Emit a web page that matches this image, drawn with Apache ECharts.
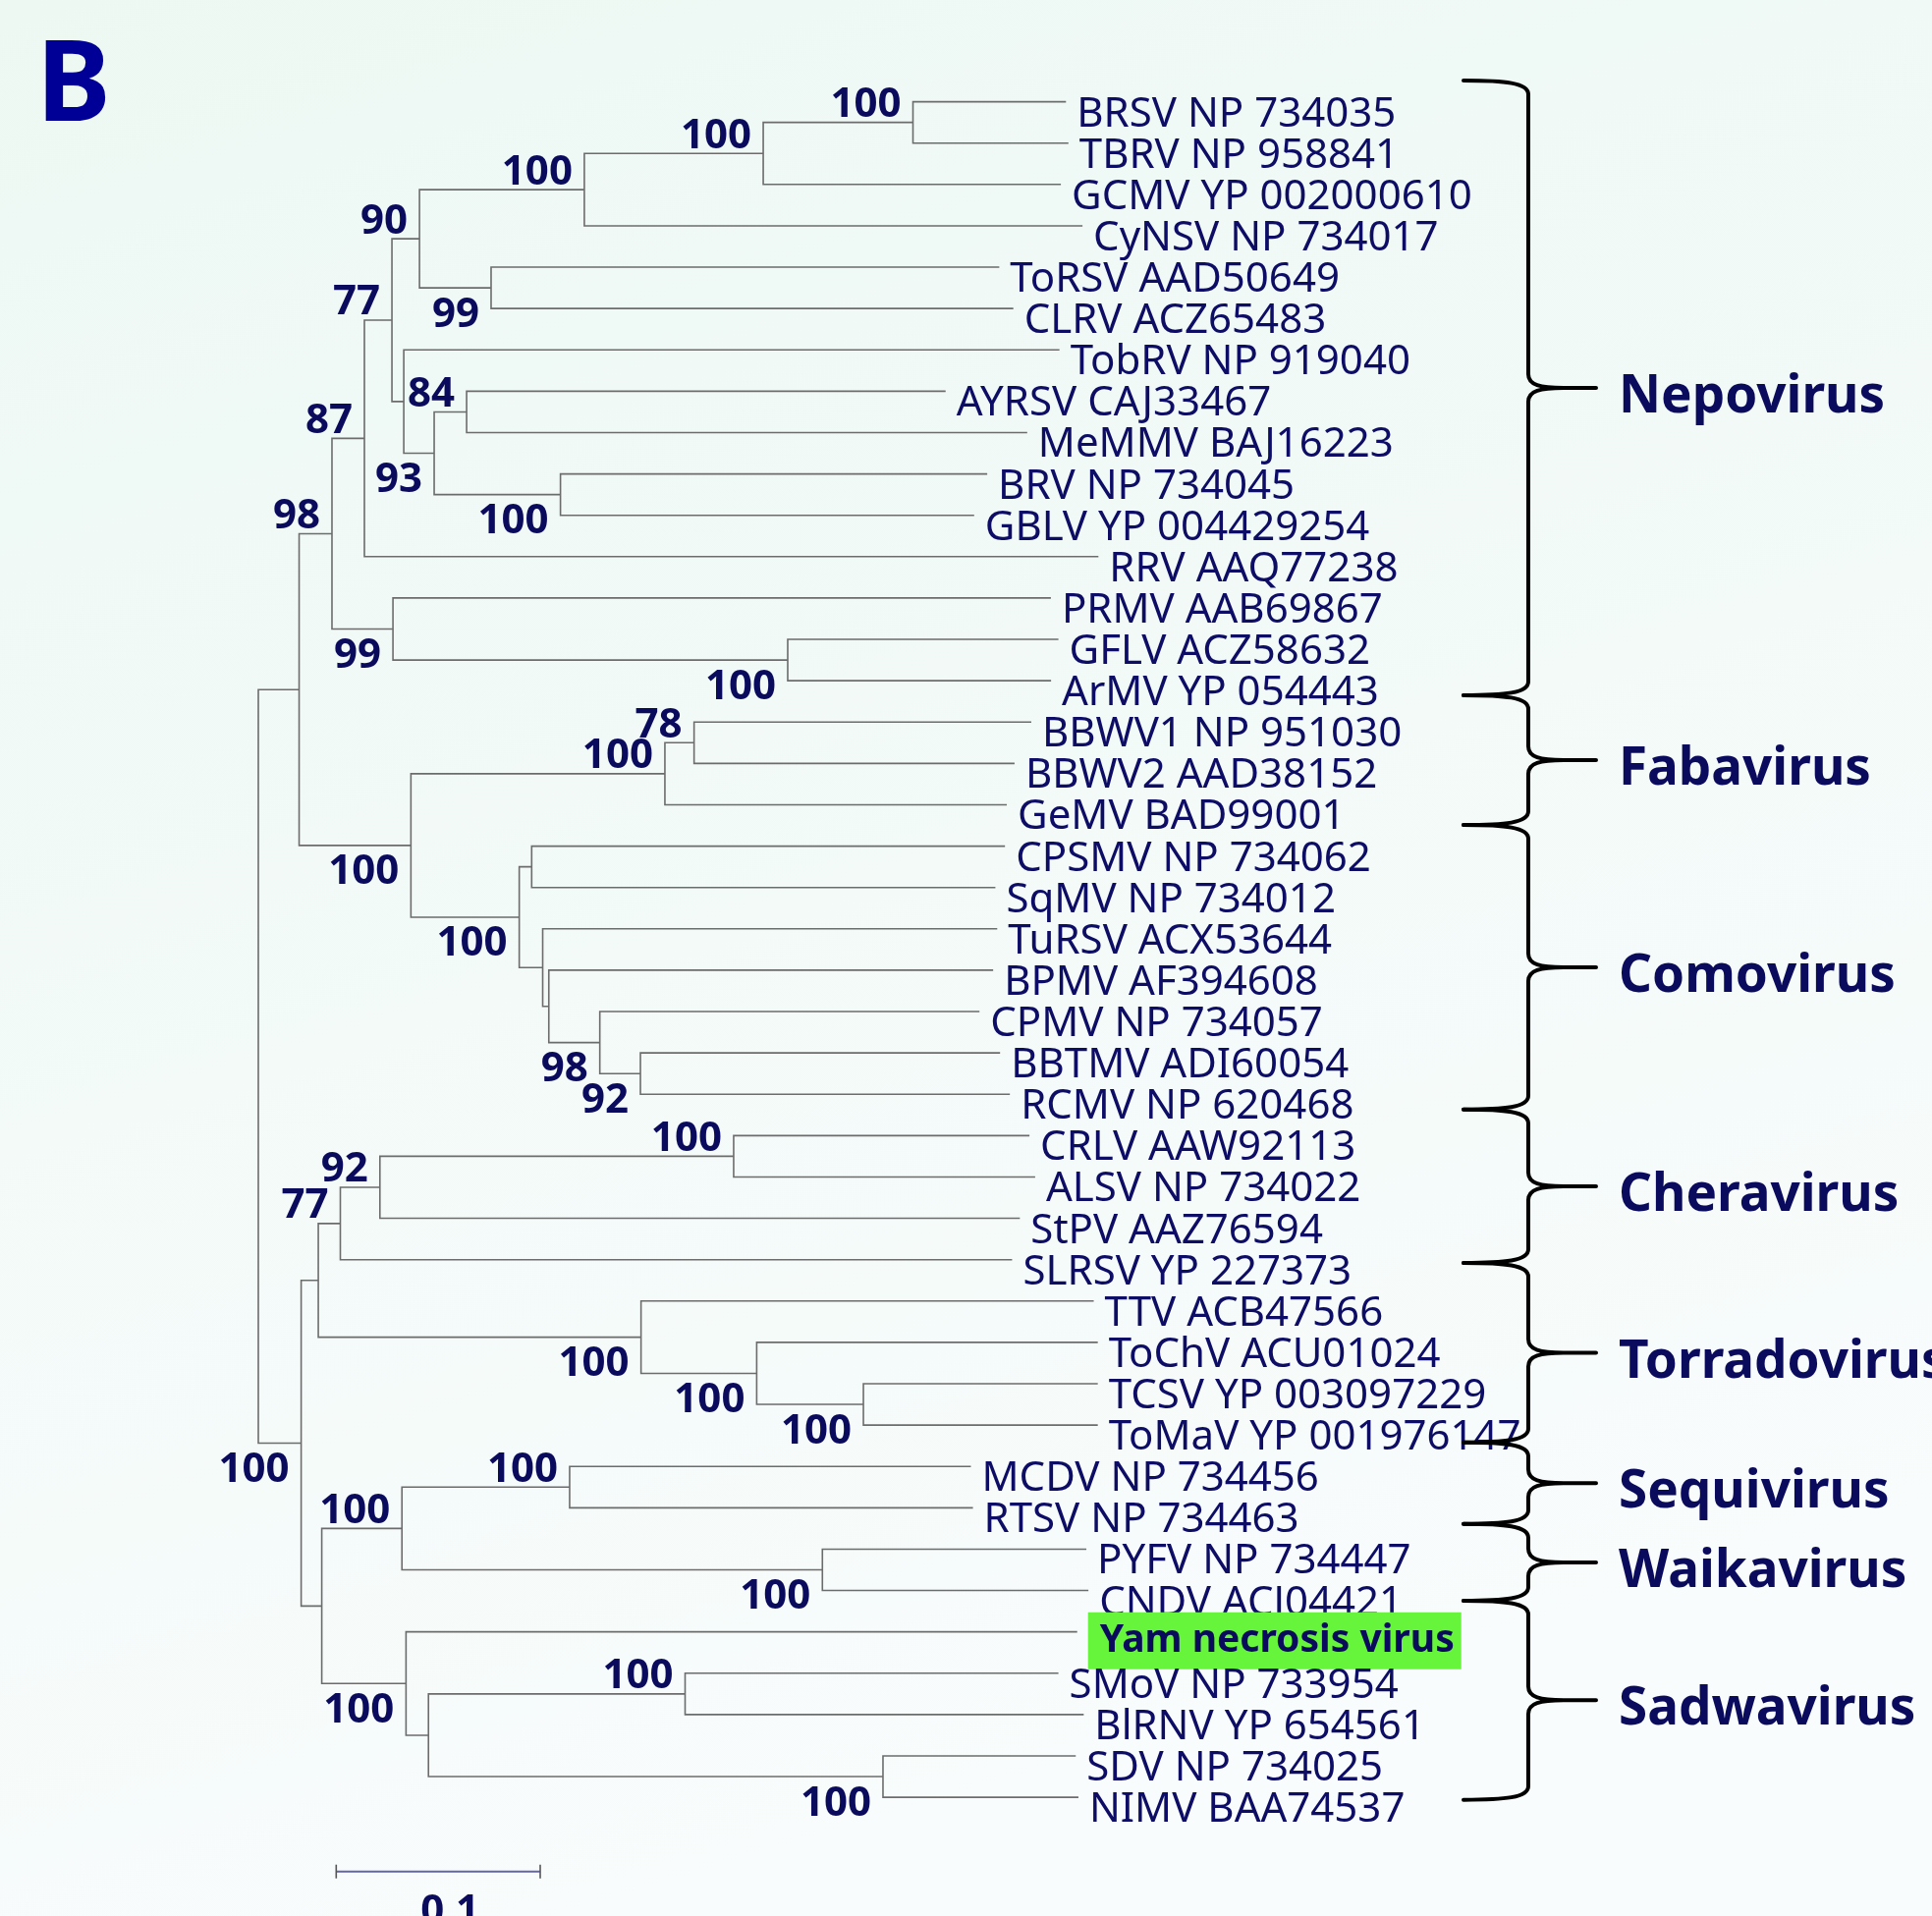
<!DOCTYPE html>
<html><head><meta charset="utf-8">
<script src="https://cdn.jsdelivr.net/npm/echarts@6/dist/echarts.min.js"></script>
<style>html,body{margin:0;padding:0;background:#f3faf8;overflow:hidden}#c{width:1967px;height:1951px}</style>
</head><body><div id="c"></div>
<script>
// ---------- DATA ----------
const leafNames = [
  'BRSV NP 734035','TBRV NP 958841','GCMV YP 002000610','CyNSV NP 734017','ToRSV AAD50649',
  'CLRV ACZ65483','TobRV NP 919040','AYRSV CAJ33467','MeMMV BAJ16223','BRV NP 734045',
  'GBLV YP 004429254','RRV AAQ77238','PRMV AAB69867','GFLV ACZ58632','ArMV YP 054443',
  'BBWV1 NP 951030','BBWV2 AAD38152','GeMV BAD99001','CPSMV NP 734062','SqMV NP 734012',
  'TuRSV ACX53644','BPMV AF394608','CPMV NP 734057','BBTMV ADI60054','RCMV NP 620468',
  'CRLV AAW92113','ALSV NP 734022','StPV AAZ76594','SLRSV YP 227373','TTV ACB47566',
  'ToChV ACU01024','TCSV YP 003097229','ToMaV YP 001976147','MCDV NP 734456','RTSV NP 734463',
  'PYFV NP 734447','CNDV ACJ04421','Yam necrosis virus','SMoV NP 733954','BlRNV YP 654561',
  'SDV NP 734025','NIMV BAA74537'
];
// distance from root (substitutions/site) of each tip
const leafDepth = [
  0.3959,0.3971,0.3934,0.4040,0.3632,
  0.3701,0.3927,0.3369,0.3769,0.3573,
  0.3509,0.4118,0.3885,0.3922,0.3886,
  0.3789,0.3707,0.3669,0.3660,0.3613,
  0.3622,0.3602,0.3535,0.3636,0.3684,
  0.3780,0.3808,0.3733,0.3695,0.4095,
  0.4115,0.4115,0.4115,0.3493,0.3503,
  0.4059,0.4069,0.4014,0.3922,0.4046,
  0.4007,0.4020
];
// internal nodes: children (number = leaf index, 'nK' = internal node K)
const nodeKids = [
  ['n1','n25'],['n2','n16'],['n3','n14'],['n4',11],['n5','n10'],
  ['n6','n9'],['n7',3],['n8',2],[0,1],[4,5],
  [6,'n11'],['n12','n13'],[7,8],[9,10],[12,'n15'],
  [13,14],['n17','n19'],['n18',17],[15,16],['n20','n21'],
  [18,19],[20,'n22'],[21,'n23'],[22,'n24'],[23,24],
  ['n26','n33'],['n27','n30'],['n28',28],['n29',27],[25,26],
  [29,'n31'],[30,'n32'],[31,32],['n34','n37'],['n35','n36'],
  [33,34],[35,36],[37,'n38'],['n39','n40'],[38,39],
  [40,41]
];
const nodeDepth = [
  0,0.0200,0.0361,0.0520,0.0655,
  0.0790,0.1598,0.2475,0.3209,0.1141,
  0.0713,0.0862,0.1021,0.1481,0.0660,
  0.2595,0.0748,0.1993,0.2136,0.1279,
  0.1340,0.1394,0.1424,0.1674,0.1873,
  0.0210,0.0294,0.0402,0.0596,0.2330,
  0.1876,0.2443,0.2966,0.0311,0.0704,
  0.1526,0.2765,0.0724,0.0834,0.2092,
  0.3062
];
const nodeSupport = [
  null,null,98,87,77,
  90,100,100,100,99,
  null,93,84,100,99,
  100,100,100,78,100,
  null,null,null,98,92,
  100,null,77,92,100,
  100,100,100,null,100,
  100,100,100,null,100,
  100
];
// label side: a = above the node, b = below
const supportSide = [
  '','','a','a','a',
  'a','a','a','a','b',
  '','b','a','b','b',
  'b','b','a','a','b',
  '','','','b','b',
  'b','','a','a','a',
  'b','b','b','','a',
  'a','b','b','','a',
  'b'
];
const groupNames = ['Nepovirus','Fabavirus','Comovirus','Cheravirus','Torradovirus','Sequivirus','Waikavirus','Sadwavirus'];
// group extent in leaf-row units
const groupSpan = [[-0.51,14.35],[14.35,17.49],[17.49,24.37],[24.37,28.08],[28.08,32.42],[32.42,34.39],[34.39,36.25],[36.25,41.06]];
const scaleBarLength = 0.1;
const highlightLeaf = 'Yam necrosis virus';
const panelLetter = 'B';

// ---------- STYLE ----------
const FONT = '"Noto Sans","Open Sans",sans-serif';
const NAVY = '#0b0b5e';
const LINE = '#6c6c6c';

// ---------- LAYOUT (computed from data) ----------
const yMemo = {};
function ref(r){
  if (typeof r === 'number') return {d: leafDepth[r], y: r};
  const i = +r.slice(1);
  return {d: nodeDepth[i], y: nodeY(i)};
}
function nodeY(i){
  if (yMemo[i] != null) return yMemo[i];
  const k = nodeKids[i];
  return (yMemo[i] = (ref(k[0]).y + ref(k[1]).y) / 2);
}
const nodeData = nodeKids.map((k, i) => {
  const A = ref(k[0]), B = ref(k[1]);
  return [nodeDepth[i], A.y, B.y, A.d, B.d];
});
const leafData = leafNames.map((n, i) => [leafDepth[i], i]);
const groupData = groupSpan.map(s => [0, s[0], s[1]]);

const chart = echarts.init(document.getElementById('c'), null, {renderer: 'canvas'});
chart.setOption({
  animation: false,
  backgroundColor: {type:'linear', x:0, y:0, x2:0.3, y2:1, colorStops:[{offset:0,color:'#edf8f3'},{offset:1,color:'#f8fcfc'}]},
  grid: {left: 263, right: 665.5, top: 61.49, bottom: 36.67},
  xAxis: {type:'value', min:0, max:0.5, show:false},
  yAxis: {type:'value', min:-1, max:43, inverse:true, show:false},
  graphic: [{
    type:'text', x: 37, y: 91,
    style:{text: panelLetter, fill:'#000096', font:'bold 114px ' + FONT, verticalAlign:'middle'}
  }],
  series: [
    {
      type:'custom', name:'tree', clip:false, data: nodeData,
      renderItem(params, api){
        const d = api.value(0), yA = api.value(1), yB = api.value(2), dA = api.value(3), dB = api.value(4);
        const p0 = api.coord([dA, yA]), p1 = api.coord([d, yA]), p2 = api.coord([d, yB]), p3 = api.coord([dB, yB]);
        const children = [{type:'polyline', shape:{points:[p0,p1,p2,p3]}, style:{stroke:LINE, lineWidth:1.6, fill:null}}];
        const s = nodeSupport[params.dataIndex];
        if (s != null) {
          const m = api.coord([d, (yA + yB) / 2]);
          const above = supportSide[params.dataIndex] === 'a';
          children.push({type:'text', x: m[0] - 12, y: m[1] + (above ? -17.5 : 27.5),
            style:{text:String(s), fill:NAVY, font:'bold 42px ' + FONT, align:'right', verticalAlign:'middle'}});
        }
        return {type:'group', children};
      }
    },
    {
      type:'custom', name:'leaves', clip:false, data: leafData,
      renderItem(params, api){
        const p = api.coord([api.value(0), api.value(1)]);
        const name = leafNames[params.dataIndex];
        if (name === highlightLeaf) {
          return {type:'text', x: p[0] + 11, y: p[1] + 9,
            style:{text:name, fill:NAVY, font:'bold 39px ' + FONT, align:'left', verticalAlign:'middle',
              backgroundColor:'#66f53a', padding:[9, 7, 9, 12], lineHeight:40}};
        }
        return {type:'text', x: p[0] + 11, y: p[1] + 13,
          style:{text:name, fill:'#0d0d66', font:'42px ' + FONT, align:'left', verticalAlign:'middle'}};
      }
    },
    {
      type:'custom', name:'groups', clip:false, data: groupData,
      renderItem(params, api){
        const yT = api.coord([0, api.value(1)])[1], yB = api.coord([0, api.value(2)])[1], yM = (yT + yB) / 2;
        const S = 1556, E = 1490, T = 1625;
        const path = 'M' + E + ' ' + yT + ' C' + (E + 42) + ' ' + yT + ' ' + S + ' ' + (yT + 2) + ' ' + S + ' ' + (yT + 14) +
          ' L' + S + ' ' + (yM - 14) + ' C' + S + ' ' + (yM - 3) + ' ' + (S + 12) + ' ' + yM + ' ' + (S + 36) + ' ' + yM +
          ' L' + T + ' ' + yM + ' M' + (S + 36) + ' ' + yM + ' C' + (S + 12) + ' ' + yM + ' ' + S + ' ' + (yM + 3) + ' ' + S + ' ' + (yM + 14) +
          ' L' + S + ' ' + (yB - 14) + ' C' + S + ' ' + (yB - 2) + ' ' + (E + 42) + ' ' + yB + ' ' + E + ' ' + yB;
        return {type:'group', children:[
          {type:'path', shape:{pathData:path}, style:{stroke:'#000', lineWidth:4, fill:null, lineJoin:'round', lineCap:'round'}},
          {type:'text', x:1648, y:yM + 10, style:{text:groupNames[params.dataIndex], fill:NAVY, font:'bold 53px ' + FONT, align:'left', verticalAlign:'middle'}}
        ]};
      }
    },
    {
      type:'custom', name:'scale', clip:false, data:[[0.03818, 42.795]],
      renderItem(params, api){
        const a = api.coord([api.value(0), api.value(1)]);
        const b = api.coord([api.value(0) + scaleBarLength, api.value(1)]);
        return {type:'group', children:[
          {type:'line', shape:{x1:a[0], y1:a[1], x2:b[0], y2:b[1]}, style:{stroke:'#6464aa', lineWidth:2}},
          {type:'line', shape:{x1:a[0], y1:a[1]-7, x2:a[0], y2:a[1]+7}, style:{stroke:'#555', lineWidth:1.6}},
          {type:'line', shape:{x1:b[0], y1:b[1]-7, x2:b[0], y2:b[1]+7}, style:{stroke:'#555', lineWidth:1.6}},
          {type:'text', x:(a[0] + b[0]) / 2 + 12, y:a[1] + 41, style:{text:String(scaleBarLength), fill:NAVY, font:'bold 42px ' + FONT, align:'center', verticalAlign:'middle'}}
        ]};
      }
    }
  ]
});
</script></body></html>
